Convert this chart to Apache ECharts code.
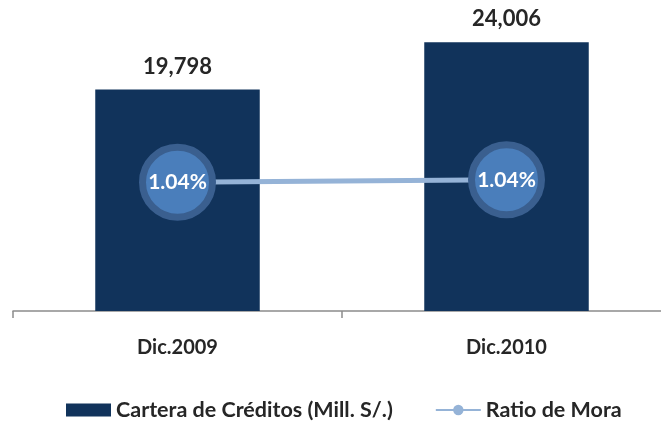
<!DOCTYPE html>
<html>
<head>
<meta charset="utf-8">
<script src="https://cdn.jsdelivr.net/npm/echarts@6/dist/echarts.min.js"></script>
<style>html,body{margin:0;padding:0;background:#fff;overflow:hidden;width:661px;height:422px}#c{width:671px;height:422px}</style>
</head>
<body>
<div id="c"></div>
<script>
const categories = ['Dic.2009', 'Dic.2010'];
const cartera = [19798, 24006];
const ratioMora = [1.036, 1.044];
const seriesNames = ['Cartera de Créditos (Mill. S/.)', 'Ratio de Mora'];

const FONT = 'Lato, "Open Sans", sans-serif';
const chart = echarts.init(document.getElementById('c'), null, {renderer: 'canvas'});
chart.setOption({
  animation: false,
  backgroundColor: '#ffffff',
  textStyle: {fontFamily: FONT},
  grid: {left: 13, right: 0, top: 20, bottom: 111, containLabel: false},
  legend: {
    top: 394, left: 61,
    itemGap: 42,
    itemWidth: 45, itemHeight: 13,
    textStyle: {fontFamily: FONT, fontSize: 21.5, fontWeight: 'bold', color: '#262626'},
    data: [
      {name: seriesNames[0], icon: 'rect'},
      {name: seriesNames[1], itemStyle: {color: '#95B3D7', borderWidth: 0}}
    ]
  },
  xAxis: {
    type: 'category', data: categories, boundaryGap: true,
    axisLine: {show: true, lineStyle: {color: '#8c8c8c', width: 1.5}},
    axisTick: {show: true, interval: 0, length: 7, lineStyle: {color: '#8c8c8c', width: 1.5}},
    axisLabel: {margin: 27, fontFamily: FONT, fontSize: 20, fontWeight: 'bold', color: '#262626'}
  },
  yAxis: [
    {type: 'value', min: 0, max: 26000, show: false, splitLine: {show: false}},
    {type: 'value', min: 0.62, max: 1.56, show: false, splitLine: {show: false}}
  ],
  series: [
    {
      name: seriesNames[0], type: 'bar', data: cartera, barWidth: '50%',
      itemStyle: {color: '#11335B'},
      label: {
        show: true, position: 'top', distance: 12,
        fontFamily: FONT, fontSize: 22, fontWeight: 'bold', color: '#262626',
        formatter: p => p.value.toLocaleString('en-US')
      }
    },
    {
      name: seriesNames[1], type: 'line', yAxisIndex: 1, data: ratioMora,
      symbol: 'circle', symbolSize: 70,
      lineStyle: {color: '#95B3D7', width: 5},
      itemStyle: {color: '#4A7EBB', borderColor: '#3A5F8F', borderWidth: 7},
      label: {
        show: true, position: 'inside',
        fontFamily: FONT, fontSize: 21, fontWeight: 'bold', color: '#ffffff',
        formatter: p => p.value.toFixed(2) + '%'
      },
      z: 3
    }
  ]
});
</script>
</body>
</html>
